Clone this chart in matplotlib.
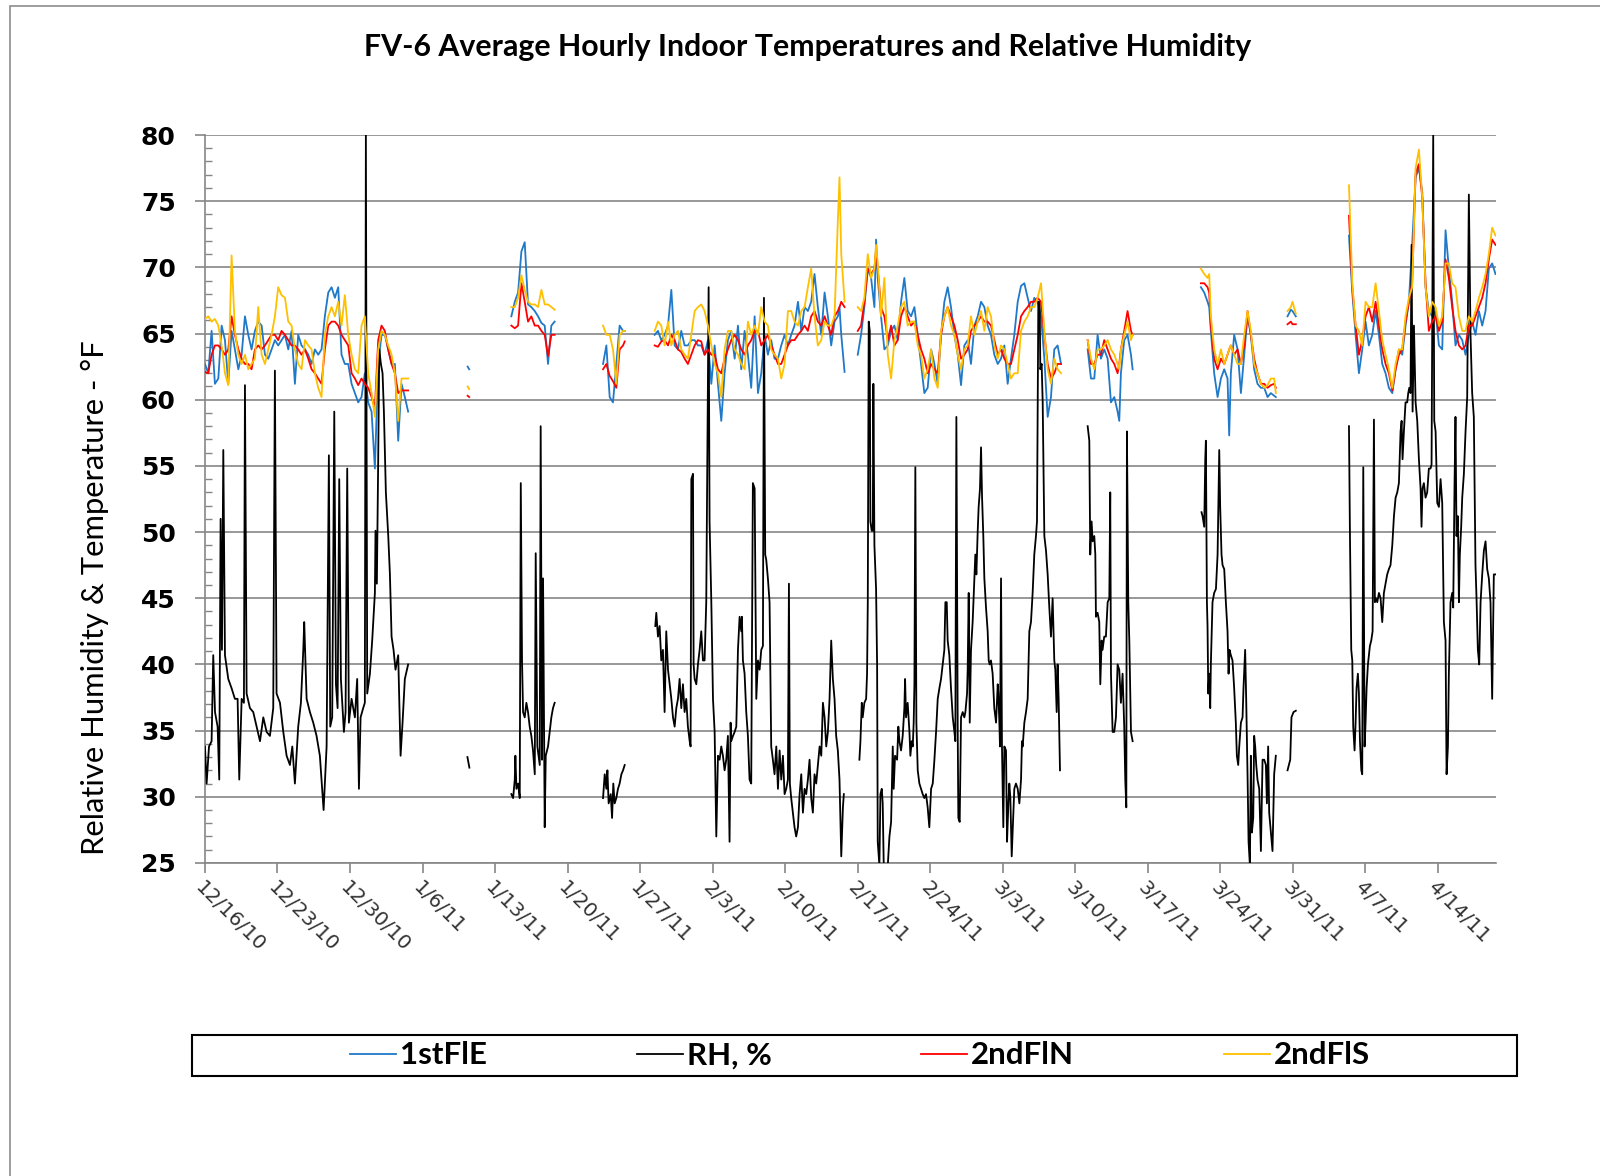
"""FV-6 average hourly indoor temperatures and relative humidity, Dec 2010 - Apr 2011."""

import matplotlib

matplotlib.use("Agg")

import matplotlib.dates as mdates
import matplotlib.pyplot as plt
import numpy as np
import pandas as pd
from matplotlib.patches import Rectangle
from matplotlib.ticker import MultipleLocator

START = pd.Timestamp("2010-12-16")

# Logger readings. Time is in days since 12/16/10 00:00; each inner list is one
# stretch of continuous logging, the breaks between them are logger outages.
temp_days = [
    [0.00, 0.32, 0.64, 0.96, 1.29, 1.61, 1.93, 2.25, 2.57, 2.89,
     3.22, 3.54, 3.86, 4.18, 4.50, 4.82, 5.14, 5.47, 5.79, 6.11,
     6.43, 6.75, 7.07, 7.39, 7.72, 8.04, 8.36, 8.68, 9.00, 9.32,
     9.65, 9.97, 10.29, 10.61, 10.93, 11.25, 11.57, 11.90, 12.22, 12.54,
     12.86, 13.18, 13.50, 13.83, 14.15, 14.47, 14.79, 15.11, 15.43, 15.75,
     16.08, 16.40, 16.72, 17.04, 17.36, 17.68, 18.01, 18.33, 18.65, 18.97,
     19.29, 19.61],
    [25.35, 25.50],
    [29.57, 29.90, 30.22, 30.54, 30.86, 31.18, 31.50, 31.83, 32.15, 32.47,
     32.79, 33.11, 33.43, 33.75],
    [38.42, 38.74, 39.06, 39.38, 39.70, 40.02, 40.35, 40.51],
    [43.40, 43.72, 44.04, 44.36, 44.69, 45.01, 45.33, 45.65, 45.97, 46.29,
     46.61, 46.94, 47.26, 47.58, 47.90, 48.22, 48.54, 48.87, 49.19, 49.51,
     49.83, 50.15, 50.47, 50.79, 51.12, 51.44, 51.76, 52.08, 52.40, 52.72,
     53.05, 53.37, 53.69, 54.01, 54.33, 54.65, 54.97, 55.30, 55.62, 55.94,
     56.26, 56.58, 56.90, 57.23, 57.55, 57.87, 58.19, 58.51, 58.83, 59.15,
     59.48, 59.80, 60.12, 60.44, 60.76, 61.08, 61.24, 61.41, 61.73],
    [63.00, 63.32, 63.64, 63.97, 64.29, 64.61, 64.77, 64.93, 65.25, 65.57,
     65.90, 66.22, 66.54, 66.86, 67.18, 67.50, 67.82, 68.15, 68.47, 68.79,
     69.11, 69.43, 69.75, 70.08, 70.40, 70.72, 71.04, 71.36, 71.68, 72.00,
     72.33, 72.65, 72.97, 73.29, 73.61, 73.93, 74.26, 74.58, 74.90, 75.22,
     75.54, 75.86, 76.18, 76.51, 76.83, 77.15, 77.47, 77.79, 78.11, 78.44,
     78.76, 79.08, 79.40, 79.72, 80.04, 80.36, 80.69, 81.01, 81.33, 81.65,
     81.97, 82.29, 82.62],
    [85.19, 85.51, 85.83, 86.15, 86.47, 86.79, 87.12, 87.44, 87.76, 88.08,
     88.24, 88.40, 88.72, 89.04, 89.37, 89.53],
    [96.12, 96.44, 96.76, 96.92, 97.08, 97.40, 97.73, 98.05, 98.37, 98.69,
     98.85, 99.01, 99.33, 99.66, 99.98, 100.30, 100.62, 100.94, 101.26, 101.58,
     101.91, 102.23, 102.55, 102.87, 103.19, 103.35],
    [104.48, 104.80, 104.96, 105.28],
    [110.41, 110.73, 111.05, 111.37, 111.69, 112.01, 112.33, 112.66, 112.98, 113.30,
     113.62, 113.94, 114.26, 114.59, 114.91, 115.23, 115.55, 115.87, 116.19, 116.51,
     116.84, 117.16, 117.48, 117.80, 118.12, 118.44, 118.77, 119.09, 119.41, 119.73,
     120.05, 120.37, 120.69, 121.02, 121.34, 121.66, 121.98, 122.30, 122.62, 122.95,
     123.27, 123.59, 123.91, 124.23, 124.55],
]

# 1st floor east, deg F
first_fl_e = [
    [62.7, 62.0, 65.2, 61.2, 61.6, 65.6, 64.5, 61.2, 65.2, 63.8,
     62.3, 63.4, 66.3, 64.9, 63.8, 65.2, 65.9, 65.6, 63.4, 63.1,
     63.8, 64.5, 64.1, 64.5, 64.9, 63.8, 65.2, 61.2, 64.9, 64.1,
     63.8, 63.4, 62.7, 63.8, 63.4, 63.8, 66.3, 68.1, 68.5, 67.7,
     68.5, 63.4, 62.7, 62.7, 61.2, 60.5, 59.8, 60.2, 62.0, 59.8,
     59.1, 54.8, 62.7, 64.9, 64.9, 63.8, 62.7, 62.7, 56.9, 61.2,
     60.2, 59.1],
    [62.5, 62.3],
    [66.3, 67.4, 68.1, 71.2, 71.9, 67.2, 67.0, 66.7, 66.3, 65.8,
     65.6, 62.7, 65.6, 65.9],
    [62.7, 64.1, 60.2, 59.8, 62.7, 65.6, 65.2, 65.2],
    [64.9, 65.2, 64.5, 64.9, 65.6, 68.3, 64.1, 63.8, 65.2, 64.1,
     64.1, 64.5, 64.5, 64.1, 64.1, 63.4, 64.5, 61.2, 64.1, 61.2,
     58.4, 62.0, 64.5, 65.2, 63.1, 65.6, 62.3, 65.2, 63.4, 60.9,
     66.3, 60.5, 62.0, 64.9, 63.4, 64.5, 63.1, 63.1, 64.1, 64.9,
     64.1, 64.9, 65.6, 67.4, 65.2, 67.0, 66.7, 67.4, 69.5, 67.0,
     64.9, 68.1, 66.3, 64.1, 65.9, 66.3, 67.0, 64.9, 62.1],
    [63.4, 64.9, 67.0, 69.9, 69.2, 67.0, 72.1, 69.2, 66.3, 63.8,
     64.1, 65.2, 65.6, 64.5, 67.4, 69.2, 66.7, 66.3, 67.0, 64.9,
     62.7, 60.5, 60.9, 63.8, 62.7, 61.2, 64.9, 67.4, 68.5, 67.0,
     64.9, 63.4, 61.1, 64.1, 64.5, 62.7, 65.6, 66.3, 67.4, 67.0,
     65.6, 64.9, 63.4, 62.7, 63.1, 64.1, 61.2, 63.1, 64.9, 67.4,
     68.6, 68.8, 67.7, 66.7, 67.7, 67.4, 66.3, 63.1, 58.7, 60.2,
     63.8, 64.1, 62.7],
    [63.8, 61.6, 61.6, 64.9, 63.1, 63.8, 63.1, 59.8, 60.2, 59.1,
     58.4, 62.0, 64.5, 64.9, 63.4, 62.3],
    [68.5, 68.1, 67.4, 67.0, 65.2, 62.0, 60.2, 61.6, 62.3, 61.6,
     57.3, 62.0, 64.9, 63.8, 60.5, 63.4, 66.3, 64.9, 62.3, 61.2,
     60.9, 60.9, 60.2, 60.5, 60.3, 60.2],
    [66.3, 66.8, 66.7, 66.3],
    [72.4, 68.1, 64.9, 62.0, 63.8, 65.9, 64.1, 64.9, 66.7, 64.9,
     62.7, 62.0, 60.9, 60.5, 62.3, 63.8, 63.4, 65.6, 67.4, 71.7,
     76.8, 77.5, 75.7, 68.5, 66.7, 66.3, 66.7, 64.1, 63.8, 72.8,
     69.9, 67.4, 64.1, 64.9, 64.5, 63.4, 64.9, 65.9, 64.9, 66.7,
     65.6, 66.7, 69.9, 70.3, 69.5],
]

# 2nd floor north, deg F
second_fl_n = [
    [62.1, 62.0, 63.4, 64.1, 64.1, 63.8, 63.4, 63.8, 66.3, 64.9,
     63.8, 63.1, 62.7, 62.7, 62.3, 63.8, 64.1, 63.8, 64.1, 64.5,
     64.9, 64.9, 64.5, 65.2, 64.9, 64.5, 64.1, 64.1, 63.8, 63.4,
     63.8, 63.1, 62.3, 62.0, 61.6, 61.2, 63.8, 65.6, 65.9, 65.9,
     65.6, 64.9, 64.5, 64.1, 62.0, 61.6, 61.1, 61.6, 61.2, 60.9,
     60.2, 59.4, 64.5, 65.6, 65.2, 63.8, 62.7, 62.0, 60.5, 60.7,
     60.7, 60.7],
    [60.3, 60.2],
    [65.6, 65.4, 65.6, 68.8, 67.4, 65.9, 66.3, 65.6, 65.6, 65.2,
     64.9, 63.3, 64.9, 64.9],
    [62.3, 62.7, 61.8, 61.4, 60.9, 63.8, 64.1, 64.4],
    [64.1, 64.0, 64.4, 64.5, 64.1, 64.9, 64.5, 63.8, 63.6, 63.1,
     62.7, 63.4, 64.1, 64.5, 64.4, 63.4, 63.8, 63.4, 63.4, 62.3,
     62.0, 63.1, 63.8, 64.5, 64.9, 64.5, 63.8, 63.4, 64.1, 64.5,
     65.2, 65.2, 64.1, 64.5, 64.9, 64.1, 63.4, 62.7, 62.7, 63.4,
     64.1, 64.5, 64.5, 64.9, 65.2, 65.6, 65.2, 66.3, 66.7, 65.9,
     65.6, 66.3, 65.6, 64.9, 66.3, 66.7, 67.0, 67.4, 67.0],
    [65.2, 65.6, 67.4, 69.9, 69.5, 69.9, 71.3, 69.9, 67.0, 66.3,
     64.5, 65.6, 64.1, 64.5, 66.3, 67.0, 66.3, 65.6, 65.9, 64.9,
     63.8, 63.1, 62.0, 62.7, 62.3, 62.0, 64.9, 66.3, 67.0, 66.3,
     65.6, 64.5, 63.1, 63.4, 63.8, 65.2, 65.6, 65.9, 66.3, 65.9,
     65.9, 65.6, 64.5, 63.4, 63.8, 63.1, 62.7, 62.7, 63.8, 64.9,
     66.3, 66.7, 67.0, 67.4, 67.4, 67.7, 67.4, 64.9, 62.7, 61.6,
     62.0, 62.7, 62.7],
    [64.5, 62.7, 62.7, 63.4, 63.4, 64.5, 63.8, 63.1, 62.7, 62.0,
     62.7, 63.8, 65.2, 66.7, 65.2, 64.9],
    [68.8, 68.8, 68.5, 68.1, 65.6, 63.1, 62.3, 63.1, 62.7, 63.4,
     63.8, 64.1, 63.4, 63.8, 62.7, 64.1, 66.7, 64.9, 63.1, 62.0,
     61.2, 61.2, 60.9, 61.1, 61.2, 60.9],
    [65.7, 65.9, 65.7, 65.7],
    [73.9, 68.5, 65.6, 63.4, 64.5, 66.3, 67.0, 65.9, 67.4, 65.6,
     63.8, 62.7, 62.0, 60.7, 62.3, 63.4, 63.8, 65.9, 67.4, 68.8,
     77.1, 77.8, 75.3, 68.8, 65.2, 65.9, 66.3, 65.2, 65.9, 70.6,
     69.2, 67.0, 65.2, 64.1, 63.8, 64.1, 65.6, 65.6, 66.3, 67.0,
     67.7, 68.8, 70.6, 72.1, 71.7],
]

# 2nd floor south, deg F
second_fl_s = [
    [66.1, 66.3, 65.9, 66.1, 65.6, 64.1, 62.0, 61.1, 70.9, 65.2,
     63.4, 62.7, 63.4, 62.3, 62.7, 63.1, 67.0, 63.4, 62.7, 63.8,
     64.9, 66.3, 68.5, 67.9, 67.7, 65.9, 65.6, 63.8, 62.7, 62.3,
     64.5, 64.1, 63.8, 62.0, 60.9, 60.2, 64.9, 66.3, 67.0, 66.3,
     67.4, 65.6, 67.9, 64.9, 63.4, 62.3, 62.0, 65.6, 66.3, 62.0,
     60.5, 58.7, 63.8, 65.2, 64.9, 64.1, 63.4, 62.0, 58.4, 61.6,
     61.6, 61.6],
    [61.0, 60.8],
    [67.0, 67.0, 67.7, 69.4, 68.3, 67.4, 67.2, 67.2, 67.0, 68.3,
     67.2, 67.2, 67.0, 66.8],
    [65.6, 64.9, 64.9, 63.8, 61.2, 64.9, 65.2, 65.2],
    [65.2, 65.9, 65.6, 64.1, 65.9, 64.1, 64.9, 65.2, 63.8, 63.4,
     63.1, 64.9, 66.7, 67.0, 67.2, 66.7, 65.6, 64.1, 62.7, 62.0,
     60.2, 63.8, 65.2, 65.2, 63.8, 63.4, 62.7, 62.3, 65.9, 64.9,
     65.6, 64.9, 67.0, 65.9, 65.6, 63.8, 63.4, 63.1, 61.6, 62.7,
     66.7, 66.7, 65.9, 65.6, 66.7, 67.0, 68.5, 69.9, 66.3, 64.1,
     64.5, 65.9, 65.6, 65.6, 66.3, 73.5, 76.8, 71.0, 67.4],
    [67.0, 66.7, 67.7, 71.0, 69.2, 69.9, 71.7, 70.3, 66.3, 69.2,
     63.4, 61.6, 64.5, 65.6, 67.0, 67.4, 65.6, 65.9, 65.9, 64.1,
     63.4, 61.6, 62.3, 63.8, 61.6, 60.9, 65.2, 66.3, 67.0, 65.6,
     64.9, 63.4, 62.3, 63.8, 64.1, 66.3, 64.9, 65.9, 66.7, 65.2,
     67.0, 66.3, 64.1, 63.1, 64.1, 63.8, 62.7, 61.6, 62.0, 62.0,
     65.2, 65.9, 66.3, 67.0, 67.0, 67.7, 68.8, 65.2, 62.3, 61.2,
     63.1, 62.3, 62.0],
    [64.5, 63.1, 62.3, 63.8, 63.8, 64.1, 64.5, 63.8, 63.4, 62.7,
     62.3, 63.8, 64.9, 65.9, 64.5, 64.9],
    [69.9, 69.5, 69.2, 69.5, 66.3, 63.8, 62.7, 63.8, 62.7, 63.4,
     63.8, 64.1, 63.4, 62.7, 62.7, 64.9, 66.7, 65.2, 62.7, 62.0,
     61.2, 60.9, 61.1, 61.6, 61.6, 60.5],
    [66.7, 67.0, 67.4, 66.5],
    [76.2, 68.8, 65.6, 65.2, 64.1, 67.4, 67.0, 67.0, 68.8, 66.7,
     64.5, 63.4, 62.3, 60.9, 62.7, 63.8, 63.8, 66.3, 67.7, 68.5,
     77.5, 78.9, 75.3, 68.5, 66.3, 67.4, 67.0, 65.6, 66.3, 70.3,
     70.3, 68.8, 68.5, 66.3, 65.2, 65.2, 66.3, 65.9, 66.7, 67.7,
     68.5, 69.5, 71.0, 73.0, 72.4],
]

rh_days = [
    [0.00, 0.16, 0.39, 0.64, 0.80, 0.97, 1.22, 1.38, 1.51, 1.64,
     1.77, 1.93, 2.25, 2.57, 2.89, 3.15, 3.31, 3.54, 3.76, 3.86,
     4.02, 4.34, 4.66, 4.98, 5.31, 5.63, 5.95, 6.27, 6.59, 6.75,
     6.91, 7.24, 7.56, 7.88, 8.20, 8.43, 8.68, 9.00, 9.26, 9.49,
     9.58, 9.81, 10.13, 10.45, 10.77, 11.09, 11.45, 11.74, 11.96, 12.09,
     12.28, 12.48, 12.64, 12.80, 12.96, 13.12, 13.41, 13.57, 13.73, 13.89,
     14.15, 14.47, 14.69, 14.86, 15.02, 15.27, 15.43, 15.53, 15.66, 15.92,
     16.14, 16.40, 16.46, 16.59, 16.72, 16.82, 16.98, 17.14, 17.27, 17.46,
     17.69, 17.85, 18.01, 18.20, 18.39, 18.65, 18.88, 19.07, 19.29, 19.61],
    [25.33, 25.45, 25.52],
    [29.57, 29.74, 29.90, 29.96, 30.06, 30.22, 30.38, 30.48, 30.60, 30.70,
     30.86, 31.02, 31.18, 31.34, 31.50, 31.66, 31.83, 31.92, 32.08, 32.31,
     32.40, 32.53, 32.63, 32.79, 32.89, 33.11, 33.27, 33.43, 33.59, 33.75],
    [38.42, 38.58, 38.74, 38.84, 38.96, 39.16, 39.29, 39.41, 39.54, 39.70,
     39.86, 40.02, 40.19, 40.35, 40.51],
    [43.46, 43.56, 43.72, 43.88, 44.04, 44.20, 44.36, 44.52, 44.69, 44.85,
     45.01, 45.17, 45.33, 45.49, 45.65, 45.81, 45.97, 46.13, 46.29, 46.45,
     46.61, 46.78, 46.87, 46.94, 47.10, 47.16, 47.26, 47.42, 47.58, 47.74,
     47.90, 48.06, 48.22, 48.38, 48.61, 48.70, 48.87, 49.03, 49.19, 49.35,
     49.51, 49.67, 49.83, 49.99, 50.15, 50.31, 50.47, 50.63, 50.73, 50.79,
     50.96, 51.12, 51.28, 51.44, 51.60, 51.76, 51.82, 51.92, 52.08, 52.24,
     52.40, 52.56, 52.72, 52.88, 53.05, 53.21, 53.37, 53.53, 53.69, 53.85,
     53.95, 54.07, 54.17, 54.33, 54.49, 54.65, 54.81, 54.97, 55.14, 55.30,
     55.46, 55.62, 55.78, 55.94, 56.10, 56.26, 56.36, 56.45, 56.58, 56.74,
     56.90, 57.06, 57.23, 57.39, 57.55, 57.71, 57.87, 58.03, 58.19, 58.35,
     58.51, 58.67, 58.83, 58.99, 59.15, 59.32, 59.48, 59.64, 59.80, 59.96,
     60.12, 60.28, 60.44, 60.60, 60.76, 60.92, 61.08, 61.24, 61.41, 61.57,
     61.66],
    [63.16, 63.26, 63.39, 63.48, 63.64, 63.81, 63.90, 63.97, 64.06, 64.16,
     64.22, 64.35, 64.45, 64.51, 64.61, 64.77, 64.87, 64.93, 65.09, 65.19,
     65.32, 65.41, 65.51, 65.73, 65.90, 66.06, 66.22, 66.38, 66.47, 66.60,
     66.80, 66.92, 67.02, 67.18, 67.34, 67.50, 67.57, 67.66, 67.82, 67.99,
     68.08, 68.21, 68.31, 68.40, 68.47, 68.56, 68.66, 68.79, 68.95, 69.11,
     69.27, 69.43, 69.59, 69.75, 69.91, 70.08, 70.24, 70.40, 70.56, 70.72,
     70.88, 71.04, 71.20, 71.36, 71.46, 71.59, 71.68, 71.84, 72.00, 72.17,
     72.33, 72.42, 72.52, 72.65, 72.71, 72.84, 72.97, 73.13, 73.29, 73.39,
     73.55, 73.61, 73.71, 73.81, 73.93, 74.09, 74.26, 74.35, 74.45, 74.58,
     74.67, 74.80, 74.90, 75.00, 75.12, 75.22, 75.38, 75.54, 75.64, 75.73,
     75.86, 76.02, 76.18, 76.35, 76.51, 76.57, 76.67, 76.73, 76.83, 76.92,
     77.05, 77.15, 77.31, 77.41, 77.54, 77.63, 77.73, 77.86, 77.95, 78.11,
     78.27, 78.44, 78.60, 78.76, 78.85, 78.92, 79.08, 79.24, 79.40, 79.56,
     79.72, 79.88, 80.04, 80.20, 80.30, 80.43, 80.56, 80.62, 80.75, 80.85,
     81.01, 81.17, 81.33, 81.49, 81.65, 81.81, 81.97, 82.07, 82.20, 82.29,
     82.39, 82.52],
    [85.19, 85.35, 85.44, 85.57, 85.67, 85.83, 85.93, 85.99, 86.15, 86.31,
     86.41, 86.54, 86.63, 86.79, 86.95, 87.12, 87.28, 87.37, 87.44, 87.60,
     87.76, 87.92, 88.08, 88.24, 88.40, 88.56, 88.72, 88.82, 88.92, 88.98,
     89.11, 89.21, 89.37, 89.53],
    [96.18, 96.28, 96.44, 96.54, 96.60, 96.70, 96.76, 96.83, 96.92, 97.02,
     97.08, 97.24, 97.40, 97.57, 97.73, 97.82, 97.89, 97.98, 98.11, 98.21,
     98.37, 98.53, 98.69, 98.79, 98.88, 99.01, 99.17, 99.33, 99.49, 99.59,
     99.72, 99.82, 99.98, 100.14, 100.23, 100.39, 100.49, 100.62, 100.72, 100.85,
     100.94, 101.04, 101.17, 101.26, 101.36, 101.46, 101.58, 101.75, 101.91, 102.07,
     102.23, 102.39, 102.49, 102.61, 102.71, 102.87, 103.03, 103.19, 103.35],
    [104.48, 104.74, 104.86, 105.06, 105.28],
    [110.41, 110.50, 110.63, 110.73, 110.82, 110.95, 111.05, 111.14, 111.27, 111.37,
     111.47, 111.60, 111.69, 111.79, 111.92, 112.01, 112.11, 112.24, 112.33, 112.43,
     112.56, 112.69, 112.82, 112.91, 113.01, 113.14, 113.30, 113.46, 113.62, 113.78,
     113.94, 114.10, 114.26, 114.42, 114.59, 114.75, 114.91, 115.07, 115.23, 115.39,
     115.49, 115.58, 115.71, 115.87, 116.03, 116.13, 116.23, 116.35, 116.45, 116.55,
     116.68, 116.84, 117.00, 117.16, 117.32, 117.41, 117.51, 117.64, 117.80, 117.96,
     118.12, 118.28, 118.38, 118.54, 118.64, 118.77, 118.93, 119.09, 119.25, 119.41,
     119.57, 119.73, 119.83, 119.96, 120.05, 120.21, 120.37, 120.47, 120.60, 120.69,
     120.79, 120.92, 121.02, 121.11, 121.24, 121.34, 121.50, 121.66, 121.82, 121.98,
     122.14, 122.30, 122.46, 122.62, 122.72, 122.85, 122.98, 123.11, 123.27, 123.43,
     123.59, 123.75, 123.91, 124.07, 124.23, 124.39, 124.55],
]

# relative humidity, %
rh_pct = [
    [33.8, 31.0, 33.8, 34.2, 40.7, 36.4, 35.3, 31.3, 51.0, 41.1,
     56.2, 40.7, 38.9, 38.2, 37.4, 37.4, 31.3, 37.4, 37.1, 61.1,
     37.8, 36.7, 36.4, 35.3, 34.2, 36.0, 34.9, 34.6, 36.7, 62.2,
     37.8, 37.1, 34.9, 33.1, 32.4, 33.8, 31.0, 35.3, 37.1, 41.1,
     43.2, 37.4, 36.4, 35.6, 34.6, 33.1, 29.0, 33.8, 55.8, 35.3,
     36.0, 59.1, 38.5, 36.7, 54.0, 38.9, 34.9, 36.4, 54.8, 35.6,
     37.4, 36.0, 38.9, 30.6, 36.0, 36.7, 37.1, 80.0, 37.8, 39.3,
     41.8, 45.4, 50.1, 46.1, 55.5, 63.8, 62.7, 62.0, 59.1, 53.0,
     49.7, 46.8, 42.1, 41.1, 39.6, 40.7, 33.1, 35.6, 38.9, 40.0],
    [33.0, 32.5, 32.2],
    [30.2, 29.9, 31.3, 33.1, 30.6, 31.0, 29.9, 53.7, 40.3, 36.4,
     36.0, 37.1, 36.4, 35.3, 34.6, 33.5, 31.7, 48.4, 33.8, 32.4,
     58.0, 32.8, 46.5, 27.7, 33.1, 33.8, 34.9, 36.0, 36.7, 37.1],
    [29.9, 31.7, 30.6, 32.0, 29.5, 30.2, 28.4, 31.0, 29.5, 29.9,
     30.6, 31.0, 31.7, 32.0, 32.4],
    [42.9, 43.9, 42.1, 42.9, 40.3, 41.1, 36.4, 42.5, 39.6, 38.5,
     37.4, 36.0, 35.3, 36.7, 37.4, 38.9, 36.7, 38.5, 36.4, 37.4,
     35.3, 34.2, 33.8, 54.0, 54.4, 40.0, 38.9, 38.5, 40.0, 41.1,
     42.5, 40.3, 40.3, 44.7, 68.5, 50.8, 44.7, 37.4, 34.9, 27.0,
     33.1, 32.8, 33.8, 33.1, 32.0, 32.8, 34.6, 26.6, 35.6, 34.2,
     34.6, 34.9, 35.3, 41.1, 43.6, 42.5, 43.6, 40.3, 39.3, 36.4,
     34.6, 31.3, 31.0, 53.7, 53.3, 37.4, 40.3, 39.6, 41.1, 41.4,
     67.7, 48.3, 47.9, 46.5, 44.7, 33.8, 32.8, 31.7, 33.8, 30.6,
     33.5, 31.3, 33.1, 30.2, 30.6, 31.3, 46.1, 31.0, 29.9, 28.8,
     27.7, 27.0, 27.7, 30.2, 31.7, 28.8, 30.6, 30.2, 31.3, 32.8,
     29.9, 28.8, 31.7, 31.0, 32.4, 33.8, 33.1, 37.1, 36.0, 33.8,
     34.9, 37.4, 41.8, 38.9, 37.4, 34.6, 33.5, 31.3, 25.5, 29.2,
     30.2],
    [32.8, 34.2, 37.1, 36.0, 37.1, 37.4, 39.3, 44.7, 65.9, 65.2,
     50.8, 50.1, 50.1, 61.2, 49.0, 45.7, 40.0, 26.6, 24.8, 30.2,
     30.6, 29.5, 24.8, 24.8, 24.8, 27.0, 28.1, 33.8, 30.6, 33.1,
     32.8, 35.3, 34.2, 33.5, 34.6, 36.7, 38.9, 36.0, 37.1, 34.9,
     33.1, 34.2, 33.8, 35.6, 38.5, 54.9, 35.6, 32.0, 31.0, 30.6,
     30.2, 29.9, 30.2, 29.2, 27.7, 30.6, 31.0, 32.8, 34.9, 37.4,
     38.2, 38.9, 40.0, 41.1, 44.7, 44.7, 41.8, 40.7, 38.2, 36.0,
     34.9, 34.2, 58.7, 34.9, 28.4, 28.1, 36.0, 36.4, 36.0, 36.4,
     37.8, 39.6, 45.4, 35.6, 41.1, 43.2, 46.5, 48.3, 46.8, 50.1,
     51.9, 53.3, 56.4, 52.6, 49.7, 46.5, 44.3, 42.5, 40.3, 40.0,
     40.3, 39.3, 36.7, 35.6, 38.5, 37.8, 35.6, 33.8, 46.5, 33.8,
     27.7, 33.8, 33.5, 26.6, 29.5, 31.0, 29.9, 25.5, 27.3, 30.6,
     31.0, 30.6, 29.5, 31.3, 34.2, 33.8, 35.6, 36.4, 37.4, 42.5,
     43.2, 45.4, 48.3, 49.7, 50.8, 67.4, 67.4, 62.3, 62.7, 59.8,
     49.7, 48.6, 46.8, 44.3, 42.1, 45.0, 40.3, 39.6, 36.4, 40.0,
     37.4, 32.0],
    [58.0, 56.9, 48.3, 50.8, 49.3, 49.7, 48.3, 43.6, 43.9, 43.2,
     38.5, 41.8, 41.1, 42.1, 42.1, 44.7, 45.0, 53.0, 39.3, 34.9,
     34.9, 36.0, 40.0, 39.6, 37.1, 39.3, 35.3, 31.3, 29.2, 57.6,
     44.7, 41.8, 34.9, 34.2],
    [51.5, 51.2, 50.4, 55.5, 56.9, 44.7, 42.9, 37.8, 39.3, 36.7,
     40.0, 44.7, 45.4, 45.7, 48.3, 52.6, 56.2, 51.9, 48.3, 47.5,
     47.2, 44.7, 42.5, 39.3, 41.1, 40.7, 40.3, 38.2, 35.6, 33.1,
     32.4, 33.8, 35.6, 36.0, 38.2, 41.1, 37.4, 31.7, 26.6, 24.8,
     33.1, 27.3, 28.4, 34.6, 33.8, 32.4, 31.3, 30.6, 25.9, 32.8,
     32.8, 32.4, 29.5, 33.8, 28.8, 27.3, 25.9, 31.7, 33.1],
    [32.0, 32.8, 36.0, 36.4, 36.5],
    [58.0, 50.1, 41.1, 40.3, 35.3, 33.5, 35.6, 38.2, 39.3, 37.8,
     34.2, 32.0, 31.7, 54.9, 33.8, 35.6, 38.2, 40.0, 40.7, 41.4,
     41.8, 42.5, 58.5, 44.7, 45.0, 44.7, 45.4, 45.0, 43.2, 45.4,
     46.1, 46.8, 47.2, 47.5, 49.0, 51.2, 52.6, 53.0, 53.7, 57.6,
     58.4, 55.5, 57.6, 59.8, 59.8, 60.5, 60.9, 60.5, 71.7, 59.1,
     65.6, 59.8, 58.4, 55.5, 53.3, 50.4, 53.3, 53.7, 52.6, 53.0,
     54.8, 54.8, 55.1, 80.0, 58.4, 57.6, 52.2, 51.9, 54.0, 52.2,
     43.2, 41.8, 31.7, 33.8, 39.3, 44.7, 45.4, 44.3, 53.7, 58.7,
     49.7, 51.2, 44.7, 48.3, 50.4, 52.6, 54.4, 57.6, 60.2, 75.5,
     64.9, 60.5, 58.7, 47.5, 45.0, 41.1, 40.0, 44.7, 46.8, 48.6,
     49.3, 47.2, 46.5, 44.7, 37.4, 46.8, 46.8],
]

GRID = "#868686"
T_END = 124.6  # last logged hour, days after START


def join_segments(segments):
    """Flatten logging stretches into one array with NaN breaks between them."""
    parts = []
    for seg in segments:
        parts.extend(seg)
        parts.append(np.nan)
    return np.array(parts[:-1], dtype=float)


def check_lengths(days, values, name):
    for i, (d, v) in enumerate(zip(days, values)):
        if len(d) != len(v):
            raise ValueError(f"{name}: stretch {i} has {len(d)} times, {len(v)} values")


def main() -> None:
    for name, vals in [("1stFlE", first_fl_e), ("2ndFlN", second_fl_n), ("2ndFlS", second_fl_s)]:
        check_lengths(temp_days, vals, name)
    check_lengths(rh_days, rh_pct, "RH")

    t0 = mdates.date2num(START)
    t_temp = t0 + join_segments(temp_days)
    t_rh = t0 + join_segments(rh_days)

    plt.rcParams["font.family"] = ["Lato", "DejaVu Sans"]

    fig = plt.figure(figsize=(16, 11.76), dpi=100)
    ax = fig.add_axes([0.1281, 0.2662, 0.8069, 0.6190])

    line_e, = ax.plot(t_temp, join_segments(first_fl_e), color="#1f78c8", lw=1.3, zorder=3)
    line_rh, = ax.plot(t_rh, join_segments(rh_pct), color="black", lw=1.3, zorder=4)
    line_n, = ax.plot(t_temp, join_segments(second_fl_n), color="#ff0000", lw=1.3, zorder=5)
    line_s, = ax.plot(t_temp, join_segments(second_fl_s), color="#ffc000", lw=1.3, zorder=6)

    # y axis: 25-80 with bold labels every 5, small inside ticks every 1
    y_ticks = list(range(25, 81, 5))
    ax.set_ylim(25, 80)
    ax.set_yticks(y_ticks, [str(v) for v in y_ticks],
                  fontfamily="DejaVu Sans", fontweight="bold", fontsize=18)
    ax.yaxis.set_minor_locator(MultipleLocator(1))
    ax.tick_params(axis="y", which="major", direction="out", length=7, width=1.2,
                   color=GRID, pad=14)
    ax.tick_params(axis="y", which="minor", direction="in", length=5, width=1.0, color=GRID)
    ax.grid(axis="y", which="major", color=GRID, lw=1.2, zorder=0)

    # x axis: weekly date ticks
    weeks = pd.date_range("2010-12-16", "2011-04-14", freq="7D")
    ax.set_xlim(t0, t0 + T_END)
    ax.set_xticks(mdates.date2num(weeks),
                  [f"{d.month}/{d.day}/{d:%y}" for d in weeks],
                  rotation=-45, ha="left", va="top", rotation_mode="anchor",
                  fontfamily="DejaVu Sans", fontsize=14.5, color="#333333")
    ax.tick_params(axis="x", which="major", direction="out", length=7, width=1.2,
                   color=GRID, pad=4)

    for side in ("top", "right"):
        ax.spines[side].set_visible(False)
    for side in ("left", "bottom"):
        ax.spines[side].set_color(GRID)
        ax.spines[side].set_linewidth(1.2)

    fig.text(0.5048, 0.9600, "FV-6 Average Hourly Indoor Temperatures and Relative Humidity",
             ha="center", va="center", fontsize=21.8, fontweight="bold")
    fig.text(0.0594, 0.4915, "Relative Humidity & Temperature - \u00b0F",
             rotation=90, ha="center", va="center", fontsize=22.3)

    # legend row in a plain black box under the date labels
    fig.add_artist(Rectangle((0.12, 0.085), 0.828, 0.035, transform=fig.transFigure,
                             fill=False, ec="black", lw=1.5))
    fig.legend([line_e, line_rh, line_n, line_s], ["1stFlE", "RH, %", "2ndFlN", "2ndFlS"],
               ncol=4, loc="center", mode="expand", bbox_to_anchor=(0.2188, 0.085, 0.6375, 0.035),
               frameon=False, borderpad=0, borderaxespad=0, handlelength=1.47,
               handletextpad=0.13, prop={"family": "Lato", "weight": "bold", "size": 22.5})

    # chart-area outline (its right and bottom edges fall outside the image)
    fig.add_artist(Rectangle((10 / 1600, -0.5), 2.0, 1.5 - 6 / 1176, transform=fig.transFigure,
                             fill=False, ec="#8c8c8c", lw=1.2))

    fig.savefig("out.png", dpi=100)
    plt.close(fig)


if __name__ == "__main__":
    main()
